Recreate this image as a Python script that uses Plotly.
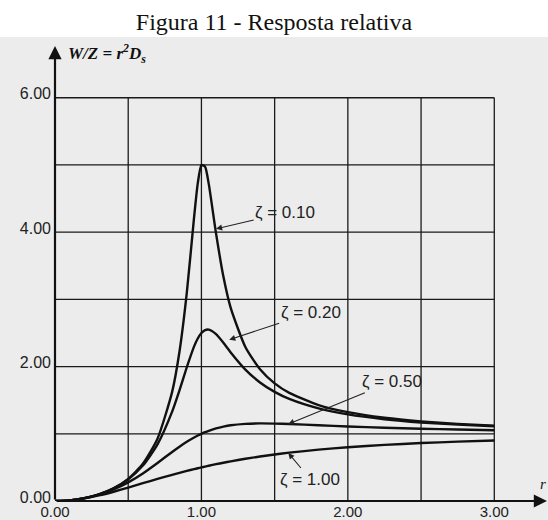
import plotly.graph_objects as go

# ---------------- data ----------------
r_values = [0, 0.1, 0.2, 0.3, 0.4, 0.5, 0.6, 0.7, 0.8, 0.85, 0.9, 0.95, 0.975, 1.0,
            1.025, 1.05, 1.1, 1.15, 1.2, 1.3, 1.4, 1.5, 1.6, 1.8, 2.0, 2.25, 2.5, 2.75, 3.0]

resp_z010 = [0, 0.010, 0.042, 0.099, 0.190, 0.330, 0.553, 0.927, 1.624, 2.220, 3.095, 4.227, 4.726, 5.000,
             4.975, 4.718, 3.979, 3.339, 2.873, 2.292, 1.960, 1.750, 1.608, 1.428, 1.322, 1.239, 1.185, 1.148, 1.122]
resp_z020 = [0, 0.010, 0.042, 0.098, 0.187, 0.322, 0.527, 0.842, 1.329, 1.646, 1.990, 2.301, 2.418, 2.500,
             2.543, 2.550, 2.482, 2.354, 2.211, 1.956, 1.764, 1.623, 1.518, 1.377, 1.288, 1.217, 1.169, 1.137, 1.113]
resp_z050 = [0, 0.010, 0.041, 0.094, 0.172, 0.277, 0.410, 0.566, 0.730, 0.808, 0.881, 0.945, 0.974, 1.000,
             1.024, 1.045, 1.081, 1.107, 1.127, 1.148, 1.155, 1.152, 1.146, 1.128, 1.109, 1.090, 1.075, 1.063, 1.053]
resp_z100 = [0, 0.010, 0.039, 0.083, 0.138, 0.200, 0.265, 0.329, 0.390, 0.419, 0.448, 0.474, 0.487, 0.500,
             0.512, 0.524, 0.548, 0.569, 0.590, 0.628, 0.662, 0.692, 0.719, 0.764, 0.800, 0.835, 0.862, 0.883, 0.900]

series = [resp_z010, resp_z020, resp_z050, resp_z100]

zeta_labels = ["ζ = 0.10", "ζ = 0.20", "ζ = 0.50", "ζ = 1.00"]
# label text position (r, value) and arrow tip (r, value)
label_pos = [(1.572, 4.29), (1.746, 2.80), (2.30, 1.774), (1.743, 0.327)]
arrow_tip = [(1.10, 4.05), (1.19, 2.40), (1.593, 1.145), (1.593, 0.714)]

x_tick_vals = [0, 1, 2, 3]
x_tick_text = ["0.00", "1.00", "2.00", "3.00"]
y_tick_vals = [0, 2, 4, 6]
y_tick_text = ["0.00", "2.00", "4.00", "6.00"]

v_grid = [0.5, 1.0, 1.5, 2.0, 2.5, 3.0]
h_grid = [1, 2, 3, 4, 5, 6]
grid_r_max = 3.0
grid_y_max = 6.0

x_max = 3.36
y_max = 6.77

title_text = "Figura 11 - Resposta relativa"
y_label = "<b><i>W/Z = r<sup>2</sup>D<sub>s</sub></i></b>"
x_label = "<i>r</i>"

# ---------------- figure ----------------
fig = go.Figure()

for ys in series:
    fig.add_trace(go.Scatter(x=r_values, y=ys, mode="lines",
                             line=dict(color="#111111", width=2.4, shape="spline", smoothing=0.6),
                             hoverinfo="skip", showlegend=False))

shapes = []
# scanned grey background of the figure area
shapes.append(dict(type="rect", xref="paper", yref="paper",
                   x0=-0.2, x1=1.05, y0=-0.1, y1=1 + 9 / 455,
                   fillcolor="#ececec", line=dict(width=0), layer="below"))
for gx in v_grid:
    shapes.append(dict(type="line", xref="x", yref="y", x0=gx, x1=gx, y0=0, y1=grid_y_max,
                       line=dict(color="#1a1a1a", width=1.3), layer="below"))
for gy in h_grid:
    shapes.append(dict(type="line", xref="x", yref="y", x0=0, x1=grid_r_max, y0=gy, y1=gy,
                       line=dict(color="#1a1a1a", width=1.3), layer="below"))

annotations = []
# axes with arrows
annotations.append(dict(x=0, y=y_max, ax=0, ay=0, xref="x", yref="y", axref="x", ayref="y",
                        text="", showarrow=True, arrowhead=2, arrowsize=1.2, arrowwidth=2.2,
                        arrowcolor="#111111", standoff=0, startstandoff=0))
annotations.append(dict(x=x_max, y=0, ax=0, ay=0, xref="x", yref="y", axref="x", ayref="y",
                        text="", showarrow=True, arrowhead=2, arrowsize=1.2, arrowwidth=2.2,
                        arrowcolor="#111111", standoff=0, startstandoff=0))
# axis labels
annotations.append(dict(x=0, y=6.657, xref="x", yref="y", xanchor="left", yanchor="middle",
                        xshift=11, text=y_label, showarrow=False,
                        font=dict(family="Liberation Serif", size=17, color="#111111")))
annotations.append(dict(x=3.336, y=0.253, xref="x", yref="y", xanchor="center", yanchor="middle",
                        text=x_label, showarrow=False,
                        font=dict(family="Liberation Serif", size=15, color="#111111")))
# zeta labels
for txt, (lx, ly), (tx, ty) in zip(zeta_labels, label_pos, arrow_tip):
    annotations.append(dict(x=tx, y=ty, ax=lx, ay=ly, xref="x", yref="y", axref="x", ayref="y",
                            text=txt, showarrow=True, arrowhead=2, arrowsize=1.1, arrowwidth=1.1,
                            arrowcolor="#222222", standoff=0,
                            font=dict(family="Liberation Sans", size=17, color="#222222")))

fig.update_layout(
    width=548, height=520,
    margin=dict(l=55, r=1, t=46, b=19),
    paper_bgcolor="white",
    plot_bgcolor="rgba(0,0,0,0)",
    title=dict(text=title_text, x=0.5, xref="container", xanchor="center",
               y=1 - 22 / 520, yref="container", yanchor="middle",
               font=dict(family="Liberation Serif", size=24, color="#111111")),
    shapes=shapes,
    annotations=annotations,
    xaxis=dict(range=[0, x_max], tickvals=x_tick_vals, ticktext=x_tick_text,
               showgrid=False, zeroline=False, showline=False, ticks="", automargin=False,
               ticklabelstandoff=0,
               tickfont=dict(family="Liberation Sans", size=15, color="#222222"),
               fixedrange=True),
    yaxis=dict(range=[0, y_max], tickvals=y_tick_vals, ticktext=y_tick_text,
               showgrid=False, zeroline=False, showline=False, ticks="", automargin=False,
               ticklabelstandoff=3, ticklabelshift=-4,
               tickfont=dict(family="Liberation Sans", size=16, color="#222222"),
               fixedrange=True),
)

fig.write_html("out.html")
